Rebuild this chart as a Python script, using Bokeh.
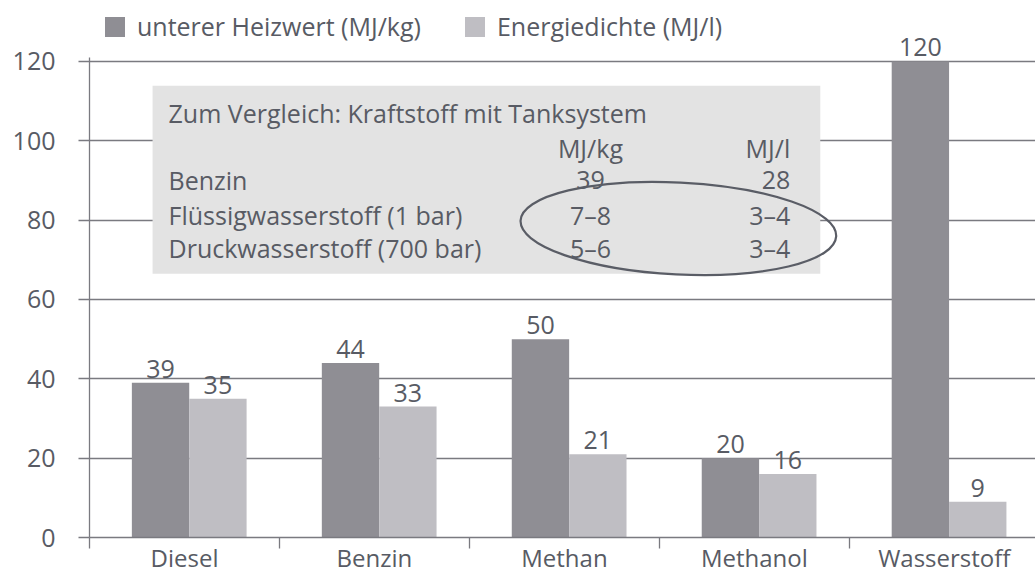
import numpy as np
from bokeh.plotting import figure
from bokeh.models import Range1d, FixedTicker, Legend, LegendItem
from bokeh.core.properties import value
from bokeh.embed import file_html
from bokeh.resources import INLINE

# ---- data ----
categories = ["Diesel", "Benzin", "Methan", "Methanol", "Wasserstoff"]
heizwert = [39, 44, 50, 20, 120]          # unterer Heizwert (MJ/kg)
energiedichte = [35, 33, 21, 16, 9]       # Energiedichte (MJ/l)
y_ticks = [0, 20, 40, 60, 80, 100, 120]

inset_title = "Zum Vergleich: Kraftstoff mit Tanksystem"
inset_header = ["MJ/kg", "MJ/l"]
inset_rows = ["Benzin", "Flüssigwasserstoff (1 bar)", "Druckwasserstoff (700 bar)"]
inset_mjkg = ["39", "7–8", "5–6"]
inset_mjl = ["28", "3–4", "3–4"]

# ---- style ----
FONT = value("Open Sans")
TXT = "#585b64"
DARK = "#8f8e94"
LIGHT = "#bfbec3"
LINE = "#7a7a80"
BOX = "#e3e3e3"
FS = "25px"

n = len(categories)
centers = np.arange(n) + 0.5
bar_w = 0.302
x_dark = centers - 0.126
x_light = centers + 0.176

p = figure(frame_width=946, frame_height=529,
           x_range=Range1d(0, 4.98), y_range=Range1d(0, 133.35),
           output_backend="svg", toolbar_location=None,
           min_border_left=89, min_border_right=0, min_border_top=8, min_border_bottom=0)
p.outline_line_color = None
p.background_fill_color = "white"

# axes
p.xgrid.visible = False
p.ygrid.grid_line_color = LINE
p.ygrid.grid_line_width = 1.3

yax = p.yaxis[0]
yax.ticker = FixedTicker(ticks=y_ticks, minor_ticks=[])
yax.bounds = (0, 121)
yax.axis_line_color = LINE
yax.axis_line_width = 1.3
yax.major_tick_line_color = LINE
yax.major_tick_line_width = 1.3
yax.major_tick_out = 11
yax.major_tick_in = 0
yax.major_label_standoff = 23
yax.major_label_text_font = "Open Sans"
yax.major_label_text_font_size = FS
yax.major_label_text_color = TXT

xax = p.xaxis[0]
xax.ticker = FixedTicker(ticks=list(centers), minor_ticks=list(range(n + 1)))
xax.major_label_overrides = {float(c): lab for c, lab in zip(centers, categories)}
xax.axis_line_color = LINE
xax.axis_line_width = 1.3
xax.major_tick_line_color = None
xax.major_tick_out = 0
xax.major_tick_in = 0
xax.minor_tick_line_color = LINE
xax.minor_tick_line_width = 1.3
xax.minor_tick_out = 11
xax.minor_tick_in = 0
xax.major_label_standoff = -8
xax.major_label_text_font = "Open Sans"
xax.major_label_text_font_size = "24px"
xax.major_label_text_color = TXT

# bars
rd = p.vbar(x=x_dark, top=heizwert, width=bar_w, bottom=0, fill_color=DARK, line_color=None)
rl = p.vbar(x=x_light, top=energiedichte, width=bar_w, bottom=0, fill_color=LIGHT, line_color=None)

p.text(x=x_dark, y=heizwert, text=[str(v) for v in heizwert], text_align="center",
       text_baseline="bottom", y_offset=-5, text_font=FONT, text_font_size=FS, text_color=TXT)
p.text(x=x_light, y=energiedichte, text=[str(v) for v in energiedichte], text_align="center",
       text_baseline="bottom", y_offset=-5, text_font=FONT, text_font_size=FS, text_color=TXT)

# inset box
p.quad(left=[0.332], right=[3.847], bottom=[66.5], top=[113.9], fill_color=BOX, line_color=None)
x_left = 0.416
x_kg = 2.637
x_l = 3.689
y_title = 106.9
y_head = 98.1
y_rows = [90.0, 81.2, 73.1]
p.text(x=[x_left], y=[y_title], text=[inset_title], text_align="left", text_baseline="middle",
       text_font=FONT, text_font_size=FS, text_color=TXT)
p.text(x=[x_kg], y=[y_head], text=[inset_header[0]], text_align="center", text_baseline="middle",
       text_font=FONT, text_font_size=FS, text_color=TXT)
p.text(x=[x_l], y=[y_head], text=[inset_header[1]], text_align="right", text_baseline="middle",
       text_font=FONT, text_font_size=FS, text_color=TXT)
p.text(x=[x_left] * 3, y=y_rows, text=inset_rows, text_align="left", text_baseline="middle",
       text_font=FONT, text_font_size=FS, text_color=TXT)
p.text(x=[x_kg] * 3, y=y_rows, text=inset_mjkg, text_align="center", text_baseline="middle",
       text_font=FONT, text_font_size=FS, text_color=TXT)
p.text(x=[x_l] * 3, y=y_rows, text=inset_mjl, text_align="right", text_baseline="middle",
       text_font=FONT, text_font_size=FS, text_color=TXT)

p.ellipse(x=[3.1], y=[77.9], width=[316], height=[92], width_units="screen", height_units="screen",
          angle=-0.05, fill_color=None, line_color="#5a5d66", line_width=2.2)

legend = Legend(items=[LegendItem(label="unterer Heizwert (MJ/kg)", renderers=[rd]),
                       LegendItem(label="Energiedichte (MJ/l)", renderers=[rl])],
                location=(13, 494), orientation="horizontal",
                glyph_width=25, glyph_height=25, label_standoff=10, spacing=41,
                padding=0, margin=0, border_line_color=None, background_fill_alpha=0,
                label_text_font="Open Sans", label_text_font_size=FS, label_text_color=TXT)
p.add_layout(legend)

open("out.html", "w").write(file_html(p, INLINE))
